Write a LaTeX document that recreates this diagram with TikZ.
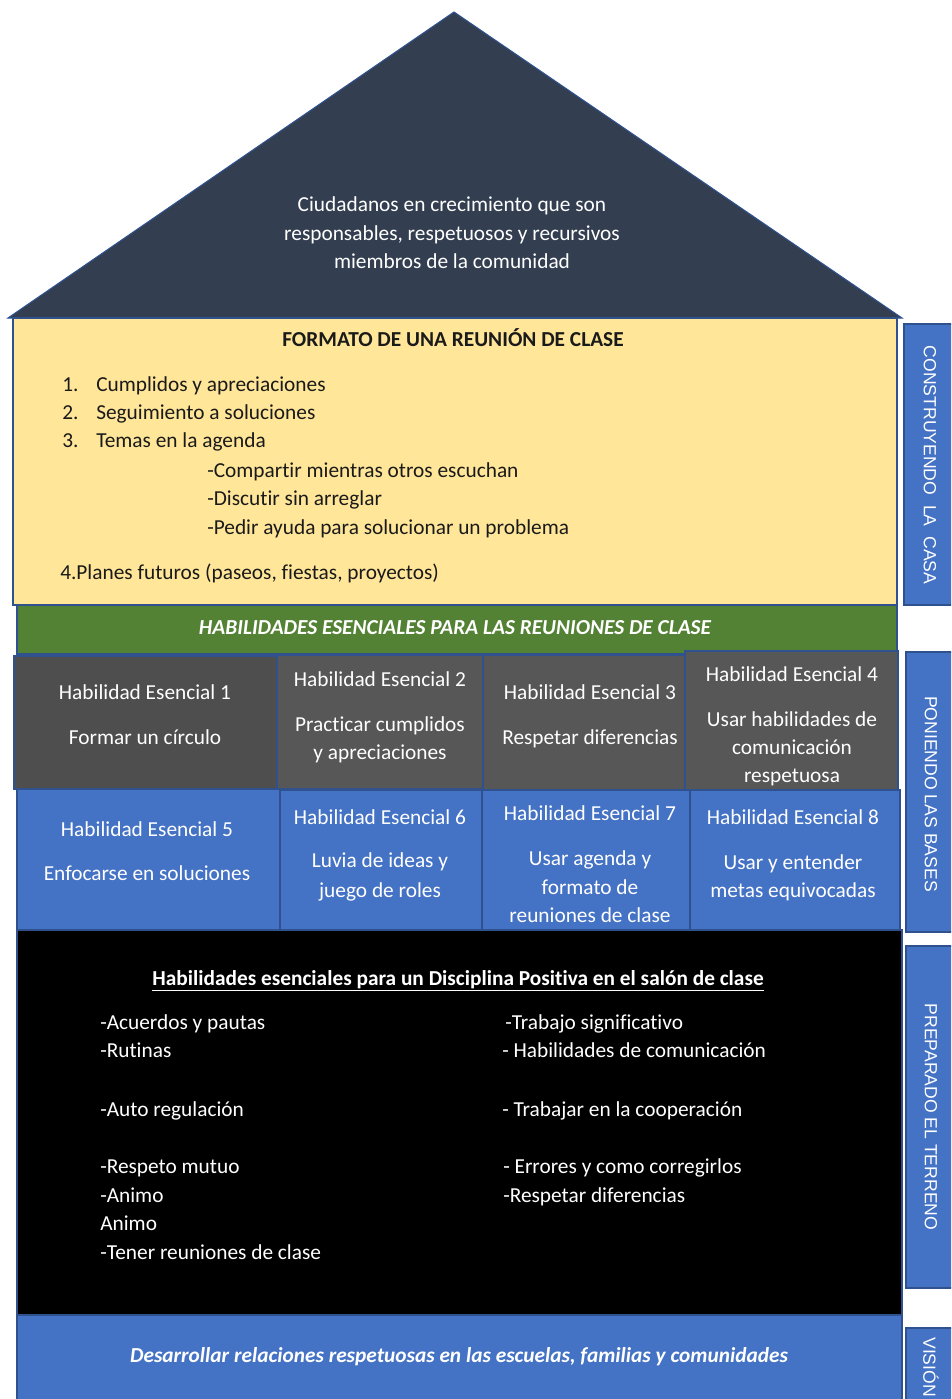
\documentclass[tikz,border=0pt]{standalone}
\usepackage{fontspec}
\setmainfont[Ligatures=NoCommon]{Carlito}
\newfontfamily\sidefont{Liberation Sans}
\definecolor{roofcol}{HTML}{333F50}
\definecolor{yellowcol}{HTML}{FFE699}
\definecolor{greencol}{HTML}{548235}
\definecolor{graycol}{HTML}{575757}
\definecolor{bluecol}{HTML}{4472C4}
\definecolor{edgecol}{HTML}{2F528F}
\definecolor{inkcol}{HTML}{1A1A1A}
\tikzset{
  box/.style={draw=edgecol, line width=0.8pt},
  wline/.style={anchor=base, inner sep=0pt, text=white, font=\fontsize{16}{19}\selectfont},
  dline/.style={anchor=base west, inner sep=0pt, text=inkcol, font=\fontsize{16}{19}\selectfont},
  bline/.style={anchor=base west, inner sep=0pt, text=white, font=\fontsize{16}{19}\selectfont},
  sidelabel/.style={rotate=-90, text=white, inner sep=0pt, font=\sidefont\fontsize{13.2}{15}\selectfont}
}
\begin{document}
\begin{tikzpicture}[x=0.75pt,y=-0.75pt]
    \clip (0,0) rectangle (951,1399);
    % roof
    \filldraw[roofcol, draw=edgecol, line width=0.8pt] (454,12) -- (8,318) -- (902,318) -- cycle;
    \node[wline] (roofa) at (452,211) {Ciudadanos en crecimiento que son};
    \node[wline] (roofb) at (452,240) {responsables, respetuosos y recursivos};
    \node[wline] (roofc) at (452,268) {miembros de la comunidad};
    % meeting format
    \filldraw[box, fill=yellowcol] (13,318) rectangle (897,605);
    \node[wline, text=inkcol, font=\fontsize{16}{19}\selectfont\bfseries] (fmt) at (453,346) {FORMATO DE UNA REUNIÓN DE CLASE};
    \node[dline] (n1) at (62,391) {1.};
    \node[dline] (i1) at (96,391) {Cumplidos y apreciaciones};
    \node[dline] (n2) at (62,419) {2.};
    \node[dline] (i2) at (96,419) {Seguimiento a soluciones};
    \node[dline] (n3) at (62,447) {3.};
    \node[dline] (i3) at (96,447) {Temas en la agenda};
    \node[dline] (s1) at (207,477) {-Compartir mientras otros escuchan};
    \node[dline] (s2) at (207,505) {-Discutir sin arreglar};
    \node[dline] (s3) at (207,534) {-Pedir ayuda para solucionar un problema};
    \node[dline] (i4) at (60,579) {4.Planes futuros (paseos, fiestas, proyectos)};
    % green band
    \filldraw[box, fill=greencol] (17,605) rectangle (897,654);
    \node[wline, font=\fontsize{16}{19}\selectfont\bfseries\itshape] (band) at (455,634) {HABILIDADES ESENCIALES PARA LAS REUNIONES DE CLASE};
    % skills 1-4
    \filldraw[box, fill=graycol!90!black] (14,656) rectangle (277,789);
    \filldraw[box, fill=graycol] (277,655) rectangle (483,789);
    \filldraw[box, fill=graycol] (483,655) rectangle (685,790);
    \filldraw[box, fill=graycol] (685,651) rectangle (898,790);
    \node[wline] (h1) at (145,699) {Habilidad Esencial 1};
    \node[wline] (h1a) at (145,744) {Formar un círculo};
    \node[wline] (h2) at (380,686) {Habilidad Esencial 2};
    \node[wline] (h2a) at (380,731) {Practicar cumplidos};
    \node[wline] (h2b) at (380,759) {y apreciaciones};
    \node[wline] (h3) at (590,699) {Habilidad Esencial 3};
    \node[wline] (h3a) at (590,744) {Respetar diferencias};
    \node[wline] (h4) at (792,681) {Habilidad Esencial 4};
    \node[wline] (h4a) at (792,726) {Usar habilidades de};
    \node[wline] (h4b) at (792,754) {comunicación};
    \node[wline] (h4c) at (792,782) {respetuosa};
    % skills 5-8
    \filldraw[box, fill=bluecol] (17,789) rectangle (280,930);
    \filldraw[box, fill=bluecol] (280,790) rectangle (482,930);
    \filldraw[box, fill=bluecol] (482,790) rectangle (690,930);
    \filldraw[box, fill=bluecol] (690,790) rectangle (900,930);
    \node[wline] (h5) at (147,836) {Habilidad Esencial 5};
    \node[wline] (h5a) at (147,880) {Enfocarse en soluciones};
    \node[wline] (h6) at (380,824) {Habilidad Esencial 6};
    \node[wline] (h6a) at (380,867) {Luvia de ideas y};
    \node[wline] (h6b) at (380,897) {juego de roles};
    \node[wline] (h7) at (590,820) {Habilidad Esencial 7};
    \node[wline] (h7a) at (590,865) {Usar agenda y};
    \node[wline] (h7b) at (590,894) {formato de};
    \node[wline] (h7c) at (590,922) {reuniones de clase};
    \node[wline] (h8) at (793,824) {Habilidad Esencial 8};
    \node[wline] (h8a) at (793,869) {Usar y entender};
    \node[wline] (h8b) at (793,897) {metas equivocadas};
    % positive discipline
    \filldraw[box, fill=black] (17,930) rectangle (902,1315);
    \node[wline, font=\fontsize{16}{19}\selectfont\bfseries] (pd) at (458,985) {\underline{Habilidades esenciales para un Disciplina Positiva en el salón de clase}};
    \node[bline] (l1) at (100,1029) {-Acuerdos y pautas};
    \node[bline] (l2) at (100,1057) {-Rutinas};
    \node[bline] (l3) at (100,1116) {-Auto regulación};
    \node[bline] (l4) at (100,1173) {-Respeto mutuo};
    \node[bline] (l5) at (100,1202) {-Animo};
    \node[bline] (l6) at (100,1230) {Animo};
    \node[bline] (l7) at (100,1259) {-Tener reuniones de clase};
    \node[bline] (r1) at (505,1029) {-Trabajo significativo};
    \node[bline] (r2) at (502,1057) {- Habilidades de comunicación};
    \node[bline] (r3) at (502,1116) {- Trabajar en la cooperación};
    \node[bline] (r4) at (503,1173) {- Errores y como corregirlos};
    \node[bline] (r5) at (503,1202) {-Respetar diferencias};
    % vision
    \filldraw[box, fill=bluecol] (17,1315) rectangle (902,1420);
    \node[wline, font=\fontsize{16}{19}\selectfont\bfseries\itshape] (vis) at (459,1362) {Desarrollar relaciones respetuosas en las escuelas, familias y comunidades};
    % side labels
    \filldraw[box, fill=bluecol] (904,324) rectangle (970,605);
    \filldraw[box, fill=bluecol] (906,652) rectangle (970,932);
    \filldraw[box, fill=bluecol] (906,946) rectangle (970,1288);
    \filldraw[box, fill=bluecol] (906,1328) rectangle (970,1420);
    \node[sidelabel] (sa) at (930,465) {CONSTRUYENDO\ \ LA\ \ CASA};
    \node[sidelabel] (sb) at (931,794) {PONIENDO LAS BASES};
    \node[sidelabel] (sc) at (931,1117) {PREPARADO EL TERRENO};
    \node[sidelabel, anchor=west] (sd) at (931,1337) {VISIÓN};
\end{tikzpicture}
\end{document}
